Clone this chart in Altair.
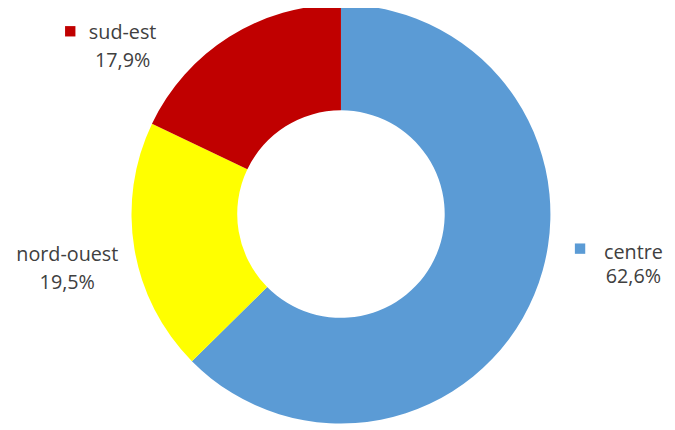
import altair as alt
import pandas as pd

categories = ["centre", "nord-ouest", "sud-est"]
values = [62.6, 19.5, 17.9]
pct_labels = ["62,6%", "19,5%", "17,9%"]
colors = ["#5B9BD5", "#FFFF00", "#C00000"]
order_idx = [0, 1, 2]

df = pd.DataFrame({
    "cat": categories,
    "val": values,
    "pct": pct_labels,
    "ordre": order_idx,
})

W, H = 667, 422
CX, CY = 337, 206  # chart coords

color_scale = alt.Scale(domain=categories, range=colors)

base = alt.Chart(df)

donut = base.mark_arc(outerRadius=212, innerRadius=105).encode(
    theta=alt.Theta("val:Q", stack=True),
    color=alt.Color("cat:N", scale=color_scale, legend=None),
    order=alt.Order("ordre:Q"),
    x=alt.value(CX),
    y=alt.value(CY),
)

# label placement (styling, in chart coords)
label_pos = {
    "centre": dict(x=633, y1=251, y2=276, square=(579, 241)),
    "nord-ouest": dict(x=60, y1=254, y2=282, square=None),
    "sud-est": dict(x=116, y1=29, y2=57, square=(63, 21)),
}

layers = [donut]
txt_style = dict(font="Open Sans", fontSize=20, color="#404040", align="center", baseline="alphabetic")
for cat, p in label_pos.items():
    f = base.transform_filter(alt.datum.cat == cat)
    layers.append(
        f.mark_text(**txt_style).encode(text="cat:N", x=alt.value(p["x"]), y=alt.value(p["y1"]))
    )
    layers.append(
        f.mark_text(**txt_style).encode(text="pct:N", x=alt.value(p["x"]), y=alt.value(p["y2"]))
    )
    if p["square"] is not None:
        layers.append(
            f.mark_square(size=110, opacity=1).encode(
                color=alt.Color("cat:N", scale=color_scale, legend=None),
                x=alt.value(p["square"][0]),
                y=alt.value(p["square"][1]),
            )
        )

chart = alt.layer(*layers).properties(
    width=W, height=H, padding=0, autosize="none"
).configure_view(strokeWidth=0, stroke="transparent", strokeOpacity=0)

chart.save("out.html", embed_options={"renderer": "svg", "actions": False})
